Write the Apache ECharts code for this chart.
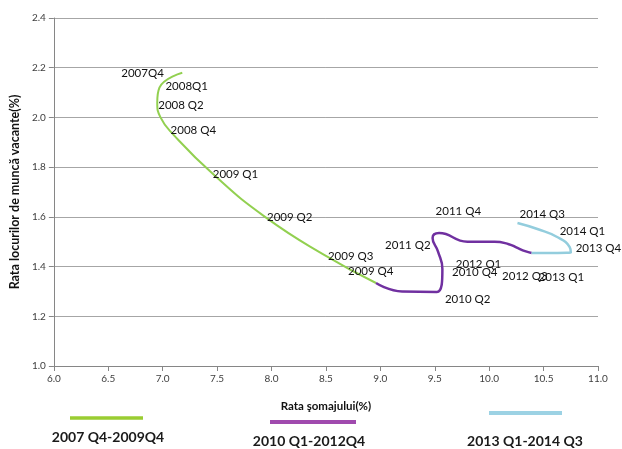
<!DOCTYPE html>
<html>
<head>
<meta charset="utf-8">
<script src="https://cdn.jsdelivr.net/npm/echarts@6/dist/echarts.min.js"></script>
<style>
  html, body { margin: 0; padding: 0; background: #fff; }
  #chart { width: 622px; height: 449px; }
</style>
</head>
<body>
<div id="chart"></div>
<script>
// Beveridge curve: unemployment rate (x) vs job vacancy rate (y), quarterly

// 2007 Q4 – 2009 Q4
const greenNames = ['2007Q4', '2008Q1', '2008 Q2', '', '2008 Q4', '2009 Q1', '2009 Q2', '2009 Q3', '2009 Q4'];
const greenX = [7.18, 6.97, 6.95, 6.98, 7.10, 7.46, 7.94, 8.50, 8.96];
const greenY = [2.18, 2.12, 2.06, 2.00, 1.93, 1.773, 1.60, 1.443, 1.334];

// 2010 Q1 – 2012 Q4 (starts from 2009 Q4 to keep the path continuous)
const purpleNames = ['', '', '2010 Q2', '', '2010 Q4', '', '2011 Q2', '', '2011 Q4', '2012 Q1', '', '2012 Q3', ''];
const purpleX = [8.96, 9.20, 9.52, 9.57, 9.53, 9.48, 9.54, 9.80, 10.05, 10.18, 10.26, 10.33, 10.39];
const purpleY = [1.334, 1.30, 1.298, 1.39, 1.46, 1.515, 1.535, 1.50, 1.50, 1.49, 1.475, 1.462, 1.455];

// 2013 Q1 – 2014 Q3 (starts from 2012 Q4)
const cyanNames = ['', '2013 Q1', '', '', '2013 Q4', '2014 Q1', '', '2014 Q3'];
const cyanX = [10.39, 10.50, 10.63, 10.75, 10.74, 10.62, 10.45, 10.26];
const cyanY = [1.455, 1.455, 1.455, 1.457, 1.478, 1.52, 1.55, 1.575];

// axis ranges
const xMin = 6, xMax = 11, xStep = 0.5;
const yMin = 1, yMax = 2.4, yStep = 0.2;

// legend texts
const legendTexts = ['2007 Q4-2009Q4', '2010 Q1-2012Q4', '2013 Q1-2014 Q3'];

// label offsets (pixels) relative to each point
const greenOffsets = [[-61, 1], [6, -1], [1, 3], null, [-3, -5], [0, 0], [2, 0], [2, 0], [-28, -12]];
const purpleOffsets = [null, null, [8, 7], null, [14, 21], null, [-54, 12], null, [-59, -30], [-53, 20], null, [-23, 25], null];
const cyanOffsets = [null, [-5, 24], null, null, [6, 1], [3, -5], null, [2, -9]];

const labelFont = 'Lato, "Open Sans", sans-serif';

function buildData(xs, ys, names, offsets) {
  return xs.map((x, i) => {
    const item = { value: [x, ys[i]] };
    if (names[i]) {
      item.label = {
        show: true,
        position: 'right',
        distance: 0,
        formatter: names[i],
        offset: offsets[i] || [0, 0]
      };
    }
    return item;
  });
}

function lineSeries(name, xs, ys, names, offsets, color, width, z) {
  return {
    name: name,
    type: 'line',
    smooth: 0.5,
    symbol: 'circle',
    symbolSize: 0,
    showSymbol: true,
    z: z,
    lineStyle: { color: color, width: width },
    itemStyle: { color: color },
    label: {
      show: false,
      color: '#111',
      fontSize: 11.5,
      fontFamily: labelFont
    },
    emphasis: { disabled: true },
    data: buildData(xs, ys, names, offsets)
  };
}

const chart = echarts.init(document.getElementById('chart'), null, { renderer: 'canvas' });

const option = {
  animation: false,
  backgroundColor: '#fff',
  grid: { left: 44, right: 24, top: 18, bottom: 83, containLabel: false },
  xAxis: {
    type: 'value',
    min: xMin, max: xMax, interval: xStep,
    name: 'Rata şomajului(%)',
    nameLocation: 'middle',
    nameGap: 34,
    nameTextStyle: { fontFamily: labelFont, fontWeight: 'bold', fontSize: 11.5, color: '#111' },
    axisLine: { show: true, lineStyle: { color: '#868686', width: 1 } },
    axisTick: { show: true, length: 5, lineStyle: { color: '#868686' } },
    axisLabel: {
      formatter: v => v.toFixed(1),
      fontFamily: labelFont, fontSize: 10, color: '#404040', margin: 8
    },
    splitLine: { show: false }
  },
  yAxis: {
    type: 'value',
    min: yMin, max: yMax, interval: yStep,
    name: 'Rata locurilor de muncă vacante(%)',
    nameLocation: 'middle',
    nameGap: 20,
    nameTextStyle: { fontFamily: labelFont, fontWeight: 'bold', fontSize: 12.5, color: '#111' },
    axisLine: { show: true, lineStyle: { color: '#868686', width: 1 } },
    axisTick: { show: true, length: 5, lineStyle: { color: '#868686' } },
    axisLabel: {
      formatter: v => v.toFixed(1),
      fontFamily: labelFont, fontSize: 10, color: '#404040', margin: 8
    },
    splitLine: { show: true, lineStyle: { color: '#a6a6a6', width: 1 } }
  },
  series: [
    lineSeries(legendTexts[0], greenX, greenY, greenNames, greenOffsets, '#92D050', 2, 2),
    lineSeries(legendTexts[1], purpleX, purpleY, purpleNames, purpleOffsets, '#7030A0', 2.5, 3),
    lineSeries(legendTexts[2], cyanX, cyanY, cyanNames, cyanOffsets, '#93CDDD', 2.5, 4)
  ],
  graphic: [
    { type: 'line', shape: { x1: 70, y1: 418, x2: 143, y2: 418 }, style: { stroke: '#9ACD32', lineWidth: 3.5 } },
    { type: 'line', shape: { x1: 270, y1: 422, x2: 356, y2: 422 }, style: { stroke: '#A04AAE', lineWidth: 4 } },
    { type: 'line', shape: { x1: 489, y1: 413, x2: 562, y2: 413 }, style: { stroke: '#9CD2E4', lineWidth: 4 } },
    { type: 'text', x: 108, y: 437, style: { text: legendTexts[0], align: 'center', verticalAlign: 'middle', fill: '#1a1a1a', font: 'bold 14px Lato, "Open Sans", sans-serif' } },
    { type: 'text', x: 309, y: 441, style: { text: legendTexts[1], align: 'center', verticalAlign: 'middle', fill: '#1a1a1a', font: 'bold 14px Lato, "Open Sans", sans-serif' } },
    { type: 'text', x: 525, y: 441, style: { text: legendTexts[2], align: 'center', verticalAlign: 'middle', fill: '#1a1a1a', font: 'bold 14px Lato, "Open Sans", sans-serif' } }
  ]
};

chart.setOption(option);
</script>
</body>
</html>
